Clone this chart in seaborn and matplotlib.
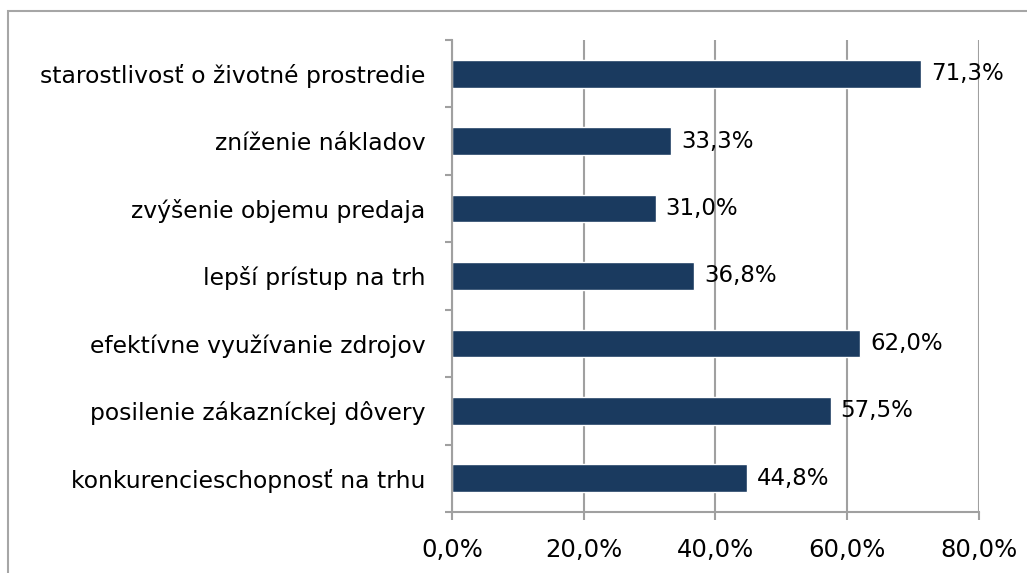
import matplotlib
matplotlib.use('Agg')
import matplotlib.pyplot as plt
import pandas as pd
import seaborn as sns
from matplotlib.patches import Rectangle
from matplotlib.ticker import FuncFormatter, FixedLocator

# data (top to bottom)
categories = [
    'starostlivosť o životné prostredie',
    'zníženie nákladov',
    'zvýšenie objemu predaja',
    'lepší prístup na trh',
    'efektívne využívanie zdrojov',
    'posilenie zákazníckej dôvery',
    'konkurencieschopnosť na trhu',
]
values = [71.3, 33.3, 31.0, 36.8, 62.0, 57.5, 44.8]
x_ticks = [0, 20, 40, 60, 80]

df = pd.DataFrame({'kategoria': categories, 'podiel': values})

sns.set_style('white')
plt.rcParams['font.family'] = ['DejaVu Sans Condensed', 'DejaVu Sans']

fig = plt.figure(figsize=(10.27, 5.73), dpi=100)
ax = fig.add_axes([0.440, 0.1065, 0.513, 0.8237])

sns.barplot(data=df, y='kategoria', x='podiel', orient='h', color='#1a3a5f',
            width=0.41, saturation=1, ax=ax)

grid_col = '#a0a0a0'
ax.set_xlim(0, 80)
ax.set_ylim(len(categories) - 0.5, -0.5)
ax.xaxis.set_major_locator(FixedLocator(x_ticks))
ax.xaxis.set_major_formatter(FuncFormatter(lambda v, p: f'{v:.1f}%'.replace('.', ',')))
ax.grid(axis='x', color=grid_col, linewidth=1.5)
ax.set_axisbelow(True)

# category separators as minor ticks on the y axis
ax.yaxis.set_minor_locator(FixedLocator([i - 0.5 for i in range(len(categories) + 1)]))
ax.tick_params(axis='y', which='major', length=0, pad=19, labelsize=16.9, labelcolor='black')
ax.tick_params(axis='y', which='minor', length=5, width=1.5, color=grid_col, direction='out', left=True)
ax.tick_params(axis='x', which='major', length=5.5, width=1.5, color=grid_col, direction='out',
               bottom=True, pad=13, labelsize=17.5, labelcolor='black')

for side in ['top', 'right']:
    ax.spines[side].set_visible(False)
for side in ['left', 'bottom']:
    ax.spines[side].set_color(grid_col)
    ax.spines[side].set_linewidth(1.5)

ax.set_xlabel('')
ax.set_ylabel('')

ax.bar_label(ax.containers[0], labels=[f'{v:.1f}%'.replace('.', ',') for v in values],
             padding=7, fontsize=16.5, color='black')

# outer chart border (only top and left visible in the reference)
fig.patches.append(Rectangle((0.0078, -0.1), 1.2, 1.081, transform=fig.transFigure,
                             fill=False, edgecolor='#a6a6a6', linewidth=1.5))

plt.savefig('out.png', dpi=100)
